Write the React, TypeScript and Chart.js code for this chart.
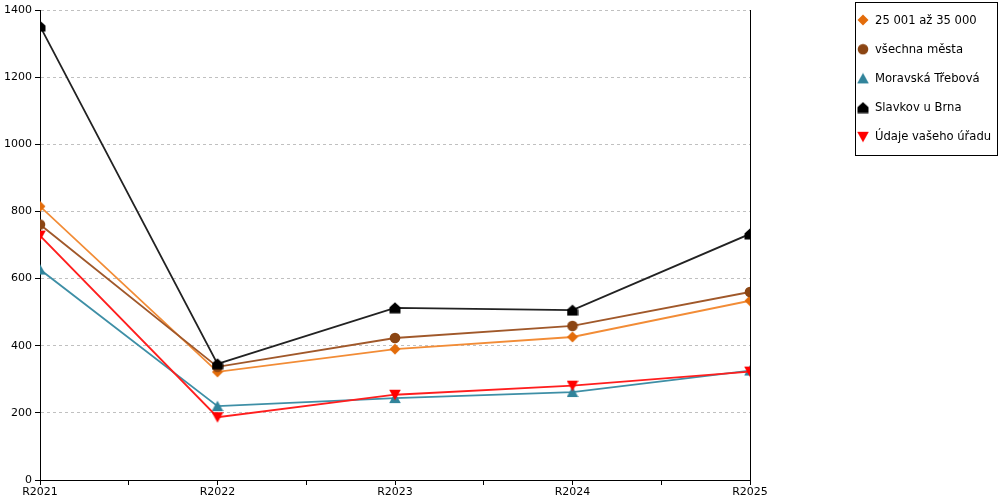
import { Chart, registerables, type Plugin } from "chart.js";
import { useEffect, useRef } from "react";

Chart.register(...registerables);

const years = ["R2021", "R2022", "R2023", "R2024", "R2025"];

const seriesNames = [
    "25 001 až 35 000",
    "všechna města",
    "Moravská Třebová",
    "Slavkov u Brna",
    "Údaje vašeho úřadu",
];

const sizeGroup = [815, 322, 390, 426, 534];
const allCities = [761, 337, 423, 459, 560];
const moravskaTrebova = [627, 220, 244, 262, 326];
const slavkov = [1352, 346, 513, 506, 733];
const ownOffice = [728, 187, 254, 281, 323];

const yTicks = [0, 200, 400, 600, 800, 1000, 1200, 1400];

const FONT = "'DejaVu Sans', Verdana, sans-serif";

// marker images (canvas) so the legend can reuse them
type Shape = "diamond" | "circle" | "triangle" | "house" | "down";

const makeMarker = (shape: Shape, color: string) => {
    const c = document.createElement("canvas");
    const s = 12;
    c.width = s;
    c.height = s;
    const ctx = c.getContext("2d")!;
    ctx.fillStyle = color;
    ctx.beginPath();
    if (shape === "diamond") {
        ctx.moveTo(6, 0.5);
        ctx.lineTo(11.5, 6);
        ctx.lineTo(6, 11.5);
        ctx.lineTo(0.5, 6);
    } else if (shape === "circle") {
        ctx.arc(6, 6, 5.3, 0, Math.PI * 2);
    } else if (shape === "triangle") {
        ctx.moveTo(6, 0.5);
        ctx.lineTo(11.8, 11);
        ctx.lineTo(0.2, 11);
    } else if (shape === "house") {
        ctx.moveTo(6, 0.5);
        ctx.lineTo(11.5, 5.5);
        ctx.lineTo(11.5, 11.5);
        ctx.lineTo(0.5, 11.5);
        ctx.lineTo(0.5, 5.5);
    } else {
        ctx.moveTo(0.2, 1);
        ctx.lineTo(11.8, 1);
        ctx.lineTo(6, 11.5);
    }
    ctx.closePath();
    ctx.fill();
    return c;
};

const boxLegend: Plugin<"line"> = {
    id: "boxLegend",
    afterDraw(chart) {
        const ctx = chart.ctx;
        ctx.save();
        // right edge line of the plot
        const { right, top, bottom } = chart.chartArea;
        ctx.strokeStyle = "#000";
        ctx.lineWidth = 1;
        ctx.beginPath();
        ctx.moveTo(Math.round(right) + 0.5, top);
        ctx.lineTo(Math.round(right) + 0.5, bottom);
        ctx.stroke();

        // legend box
        ctx.strokeRect(855.5, 2.5, 142, 153);
        ctx.font = `11.6px ${FONT}`;
        ctx.fillStyle = "#000";
        ctx.textBaseline = "middle";
        chart.data.datasets.forEach((ds: any, i) => {
            const y = 20 + i * 29.2;
            const img = ds.pointStyle as HTMLCanvasElement;
            ctx.drawImage(img, 863 - img.width / 2, y - img.height / 2);
            ctx.fillText(ds.label, 875, y + 0.5);
        });
        ctx.restore();
    },
};

const App = () => {
    const canvasRef = useRef<HTMLCanvasElement | null>(null);

    useEffect(() => {
        if (!canvasRef.current) return;

        const toPoints = (vals: number[]) => vals.map((v, i) => ({ x: i, y: v }));
        const make = (i: number, vals: number[], line: string, marker: string, shape: Shape) => ({
            label: seriesNames[i],
            data: toPoints(vals),
            borderColor: line,
            borderWidth: 1.8,
            pointStyle: makeMarker(shape, marker),
            pointRadius: 6,
            backgroundColor: marker,
            order: 5 - i,
        });

        const chart = new Chart(canvasRef.current, {
            type: "line",
            data: {
                datasets: [
                    make(0, sizeGroup, "#F28C36", "#E36C0A", "diamond"),
                    make(1, allCities, "#A0582A", "#8B4513", "circle"),
                    make(2, moravskaTrebova, "#3E8FA6", "#31849B", "triangle"),
                    make(3, slavkov, "#222222", "#000000", "house"),
                    make(4, ownOffice, "#FF1E1E", "#FF0000", "down"),
                ] as any,
            },
            options: {
                animation: false,
                responsive: true,
                maintainAspectRatio: false,
                layout: { padding: { top: 10, right: 250, left: 0, bottom: 0 } },
                plugins: {
                    legend: { display: false },
                    tooltip: { enabled: false },
                },
                scales: {
                    x: {
                        type: "linear",
                        min: 0,
                        max: years.length - 1,
                        afterFit: (scale: any) => { scale.height = 20; },
                        afterBuildTicks: (scale: any) => {
                            const t = [];
                            for (let v = 0; v <= years.length - 1; v += 0.5) t.push({ value: v });
                            scale.ticks = t;
                        },
                        ticks: {
                            autoSkip: false,
                            maxRotation: 0,
                            padding: 1,
                            color: "#000",
                            font: { family: FONT, size: 11 },
                            callback: (v: any) => (Number.isInteger(v) ? years[v] : ""),
                        },
                        grid: {
                            drawOnChartArea: false,
                            tickLength: 5,
                            tickColor: "#000",
                        },
                        border: { color: "#000", width: 1 },
                    },
                    y: {
                        min: 0,
                        max: 1400,
                        afterFit: (scale: any) => { scale.width = 40; },
                        afterBuildTicks: (scale: any) => {
                            scale.ticks = yTicks.map(v => ({ value: v }));
                        },
                        ticks: {
                            padding: 3,
                            color: "#000",
                            font: { family: FONT, size: 11 },
                            callback: (v: any) => String(v),
                        },
                        grid: {
                            color: "#C0C0C0",
                            tickColor: "#000",
                            tickLength: 5,
                            tickBorderDash: [],
                        },
                        border: { color: "#000", width: 1, dash: [3, 3] },
                    },
                },
            },
            plugins: [boxLegend],
        });

        return () => chart.destroy();
    }, []);

    return (
        <div style={{ position: "absolute", left: 0, top: 0, width: 1000, height: 500, background: "#fff" }}>
            <canvas ref={canvasRef} />
        </div>
    );
};

export default App;
